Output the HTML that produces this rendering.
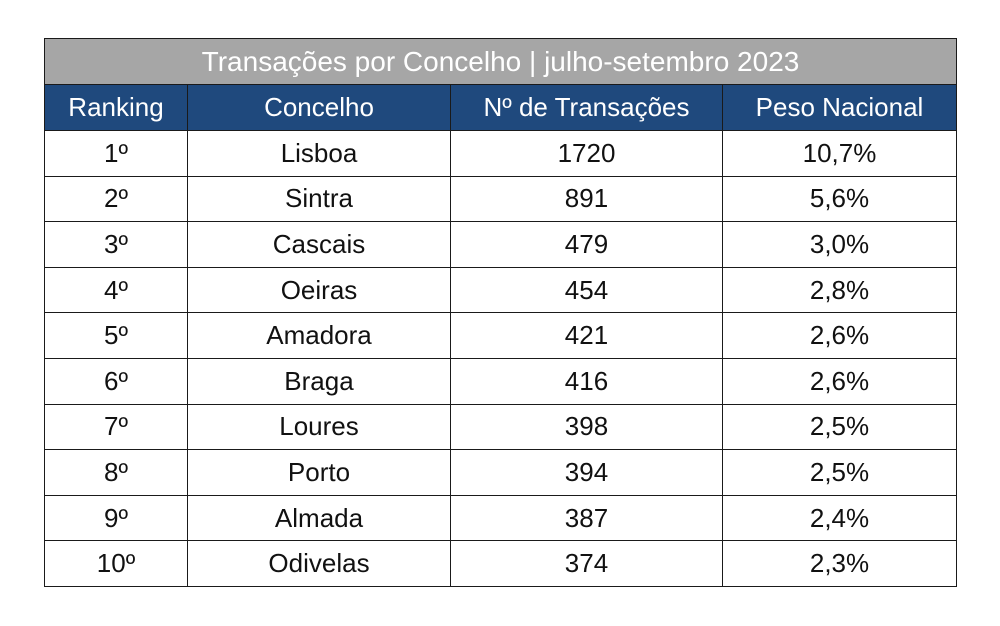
<!DOCTYPE html>
<html><head><meta charset="utf-8"><style>
body{margin:0;background:#fff;width:1000px;height:626px;position:relative;font-family:"Liberation Sans",sans-serif;}
table{position:absolute;left:44px;top:38px;border-collapse:collapse;table-layout:fixed;width:912px;}
td{border:1.5px solid #1a1a1a;text-align:center;padding:0;height:44.6px;font-size:26px;color:#111;overflow:hidden;white-space:nowrap;}
.t td{background:#a6a6a6;color:#fff;font-size:28px;height:45px;}
.h td{background:#1f497d;color:#fff;font-size:26px;height:45px;}
</style></head><body>
<table>
<colgroup><col style="width:143px"><col style="width:263px"><col style="width:272px"><col style="width:234px"></colgroup>
<tr class="t"><td colspan="4">Transações por Concelho | julho-setembro 2023</td></tr>
<tr class="h"><td>Ranking</td><td>Concelho</td><td>Nº de Transações</td><td>Peso Nacional</td></tr>
<tr><td>1º</td><td>Lisboa</td><td>1720</td><td>10,7%</td></tr>
<tr><td>2º</td><td>Sintra</td><td>891</td><td>5,6%</td></tr>
<tr><td>3º</td><td>Cascais</td><td>479</td><td>3,0%</td></tr>
<tr><td>4º</td><td>Oeiras</td><td>454</td><td>2,8%</td></tr>
<tr><td>5º</td><td>Amadora</td><td>421</td><td>2,6%</td></tr>
<tr><td>6º</td><td>Braga</td><td>416</td><td>2,6%</td></tr>
<tr><td>7º</td><td>Loures</td><td>398</td><td>2,5%</td></tr>
<tr><td>8º</td><td>Porto</td><td>394</td><td>2,5%</td></tr>
<tr><td>9º</td><td>Almada</td><td>387</td><td>2,4%</td></tr>
<tr><td>10º</td><td>Odivelas</td><td>374</td><td>2,3%</td></tr>
</table>
</body></html>
